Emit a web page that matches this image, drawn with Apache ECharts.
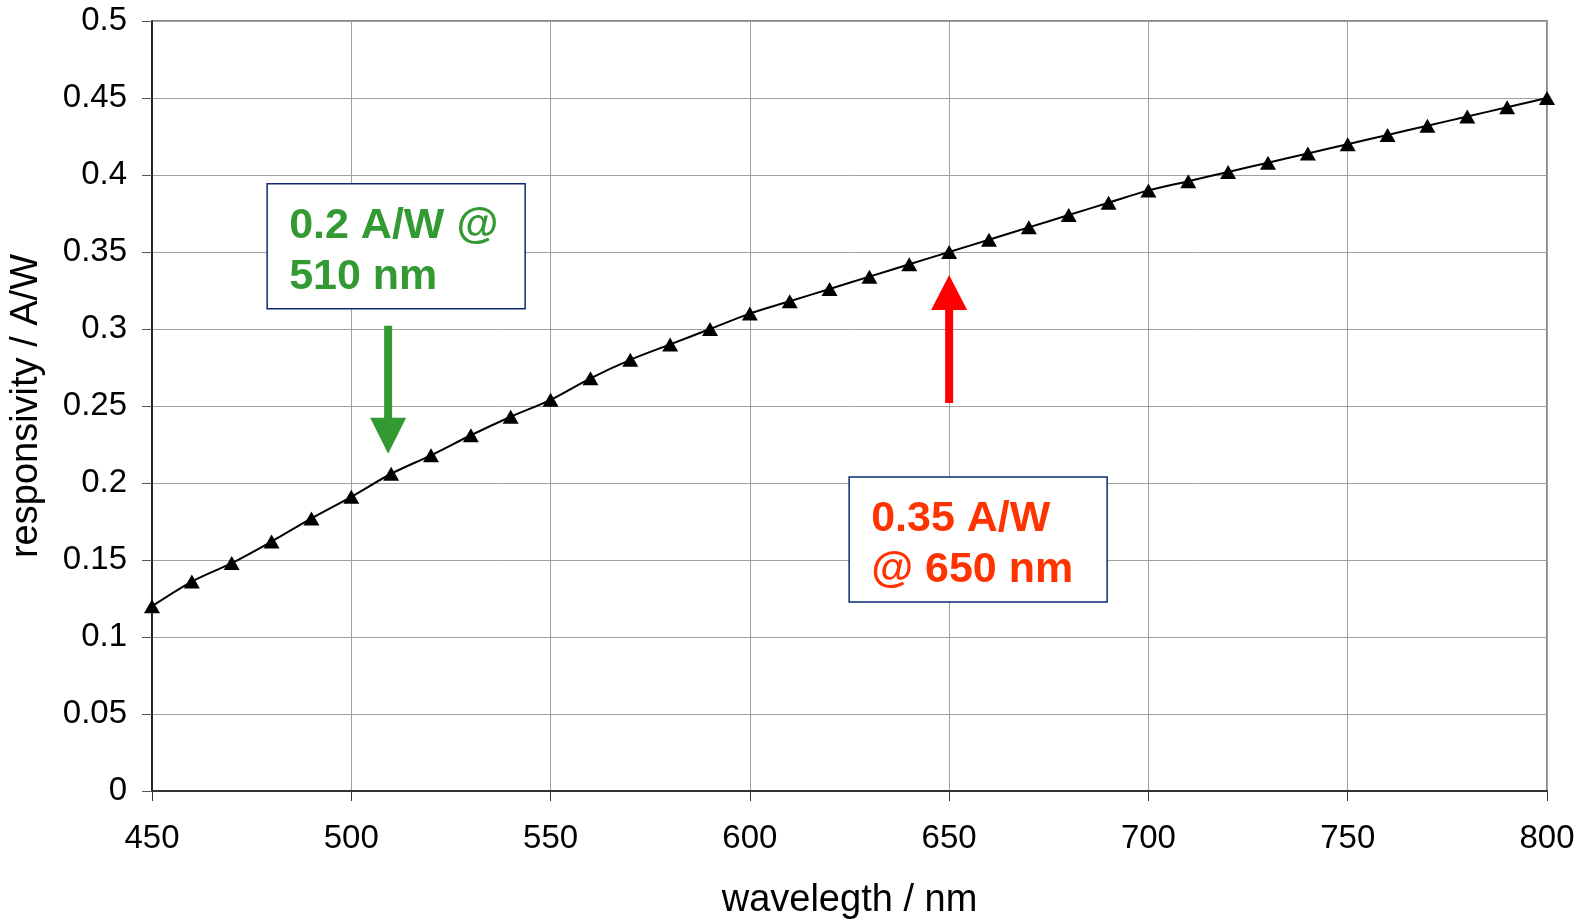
<!DOCTYPE html>
<html>
<head>
<meta charset="utf-8">
<title>Responsivity vs wavelength</title>
<script src="https://cdn.jsdelivr.net/npm/echarts@6/dist/echarts.min.js"></script>
<style>
  html, body { margin: 0; padding: 0; background: #ffffff; }
  #chart { width: 1580px; height: 920px; }
</style>
</head>
<body>
<div id="chart"></div>
<script>
// Photodiode spectral responsivity, 450–800 nm in 10 nm steps
const wavelengths = [450, 460, 470, 480, 490, 500, 510, 520, 530, 540, 550, 560,
  570, 580, 590, 600, 610, 620, 630, 640, 650, 660, 670, 680, 690, 700,
  710, 720, 730, 740, 750, 760, 770, 780, 790, 800];
const responsivity = [0.120, 0.136, 0.148, 0.162, 0.177, 0.191, 0.206, 0.218, 0.231, 0.243,
  0.254, 0.268, 0.280, 0.290, 0.300, 0.310, 0.318, 0.326, 0.334, 0.342,
  0.350, 0.358, 0.366, 0.374, 0.382, 0.390, 0.396, 0.402, 0.408, 0.414,
  0.420, 0.426, 0.432, 0.438, 0.444, 0.450];

// Axis tick labels
const xTickLabels = ['450', '500', '550', '600', '650', '700', '750', '800'];
const yTickLabels = ['0', '0.05', '0.1', '0.15', '0.2', '0.25', '0.3', '0.35', '0.4', '0.45', '0.5'];

// Callouts: [wavelength, text lines]
const greenNote = { wl: 510, lines: ['0.2 A/W @', '510 nm'] };
const redNote = { wl: 650, lines: ['0.35 A/W', '@ 650 nm'] };

const FONT = "'Liberation Sans', Arial, Helvetica, sans-serif";
const GREEN = '#339933';
const RED_TEXT = '#ff3300';
const RED_ARROW = '#ff0000';
const BOX_BORDER = '#0d2b73';

const chart = echarts.init(document.getElementById('chart'), null, { renderer: 'canvas' });

const seriesData = wavelengths.map((w, i) => [w, responsivity[i]]);

chart.setOption({
  backgroundColor: '#ffffff',
  animation: false,
  grid: {
    left: 152, top: 21, right: 33, bottom: 129,
    containLabel: false, outerBoundsMode: 'none',
    show: true, borderColor: '#8a8a8a', borderWidth: 2, backgroundColor: 'transparent'
  },
  xAxis: {
    type: 'value', min: 450, max: 800, interval: 50,
    name: 'wavelegth / nm', nameLocation: 'middle', nameGap: 91,
    nameTextStyle: { fontFamily: FONT, fontSize: 38, color: '#000' },
    axisLine: { show: true, onZero: false, lineStyle: { color: '#333', width: 2 } },
    axisTick: { show: true, inside: false, length: 10, lineStyle: { color: '#333', width: 1 } },
    axisLabel: {
      fontFamily: FONT, fontSize: 33, color: '#000', margin: 31,
      formatter: v => xTickLabels[xTickLabels.indexOf(String(v))] || ''
    },
    splitLine: { show: true, lineStyle: { color: '#a0a0a0', width: 1 } }
  },
  yAxis: {
    type: 'value', min: 0, max: 0.5, interval: 0.05,
    name: 'responsivity / A/W', nameLocation: 'middle', nameGap: 106, nameRotate: 90,
    nameTextStyle: { fontFamily: FONT, fontSize: 38, color: '#000' },
    axisLine: { show: true, onZero: false, lineStyle: { color: '#000', width: 1.5 } },
    axisTick: { show: true, inside: false, length: 10, lineStyle: { color: '#555', width: 1 } },
    axisLabel: {
      fontFamily: FONT, fontSize: 33, color: '#000', margin: 25,
      formatter: v => yTickLabels[Math.round(v / 0.05)]
    },
    splitLine: { show: true, lineStyle: { color: '#a0a0a0', width: 1 } }
  },
  series: [{
    type: 'line',
    data: seriesData,
    smooth: 0.3,
    clip: false,
    symbol: 'triangle',
    symbolSize: [16, 14],
    itemStyle: { color: '#000' },
    lineStyle: { color: '#000', width: 2 },
    z: 5
  }]
});

// Callout boxes and arrows placed from the data scale
function pointPx(wl) {
  const i = wavelengths.indexOf(wl);
  return chart.convertToPixel({ gridIndex: 0 }, [wl, responsivity[i]]);
}

function noteBox(x, y, lines, color) {
  const w = 258, h = 125;
  return [
    { type: 'rect', shape: { x: x, y: y, width: w, height: h },
      style: { fill: '#fff', stroke: BOX_BORDER, lineWidth: 1.5 }, z: 10 },
    { type: 'text', x: x + 22, y: y + 42,
      style: { text: lines[0], font: 'bold 43px ' + FONT, fill: color, verticalAlign: 'middle', align: 'left' }, z: 11 },
    { type: 'text', x: x + 22, y: y + 93,
      style: { text: lines[1], font: 'bold 43px ' + FONT, fill: color, verticalAlign: 'middle', align: 'left' }, z: 11 }
  ];
}

function downArrow(cx, tipY, color) {
  const headW = 36, headH = 36, shaftW = 8, len = 128;
  return {
    type: 'polygon', z: 9,
    shape: { points: [
      [cx - shaftW / 2, tipY - len], [cx + shaftW / 2, tipY - len],
      [cx + shaftW / 2, tipY - headH], [cx + headW / 2, tipY - headH],
      [cx, tipY],
      [cx - headW / 2, tipY - headH], [cx - shaftW / 2, tipY - headH]
    ] },
    style: { fill: color }
  };
}

function upArrow(cx, tipY, color) {
  const headW = 36, headH = 35, shaftW = 8, len = 128;
  return {
    type: 'polygon', z: 9,
    shape: { points: [
      [cx - shaftW / 2, tipY + len], [cx + shaftW / 2, tipY + len],
      [cx + shaftW / 2, tipY + headH], [cx + headW / 2, tipY + headH],
      [cx, tipY],
      [cx - headW / 2, tipY + headH], [cx - shaftW / 2, tipY + headH]
    ] },
    style: { fill: color }
  };
}

const g = pointPx(greenNote.wl);
const r = pointPx(redNote.wl);
const greenTip = g[1] - 20;
const redTip = r[1] + 23;

chart.setOption({
  graphic: [
    ...noteBox(g[0] - 124, greenTip - 270, greenNote.lines, GREEN),
    downArrow(g[0] - 3, greenTip, GREEN),
    ...noteBox(r[0] - 100, redTip + 202, redNote.lines, RED_TEXT),
    upArrow(r[0], redTip, RED_ARROW)
  ]
});
</script>
</body>
</html>
